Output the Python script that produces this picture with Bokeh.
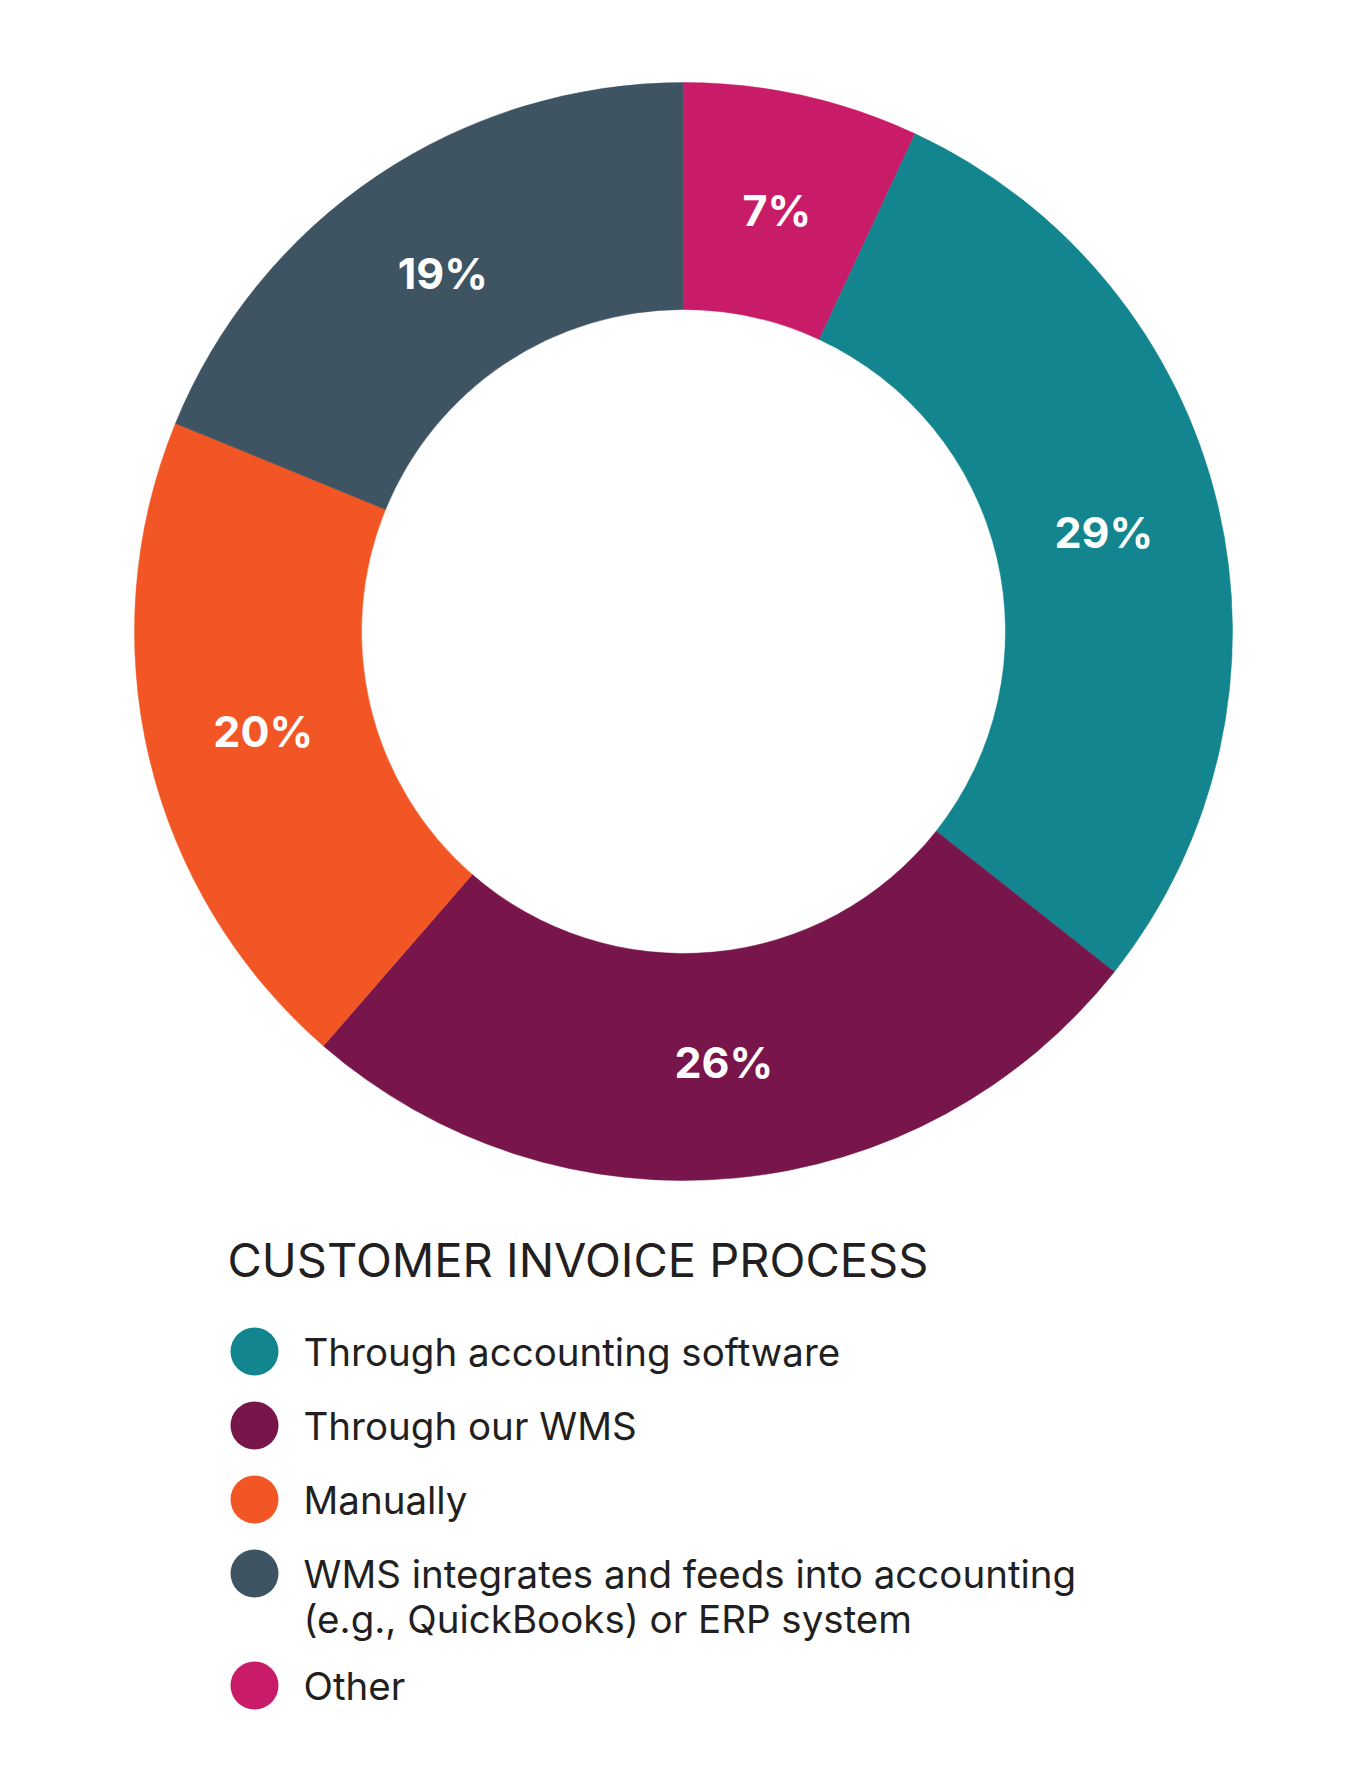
import math
from bokeh.plotting import figure
from bokeh.models import Range1d, ColumnDataSource
from bokeh.core.properties import value
from bokeh.embed import file_html
from bokeh.resources import INLINE

# ---- data ----
categories = [
    "Other",
    "Through accounting software",
    "Through our WMS",
    "Manually",
    "WMS integrates and feeds into accounting\n(e.g., QuickBooks) or ERP system",
]
values = [7, 29, 26, 20, 19]
colors = ["#C91C68", "#12858F", "#78164B", "#F15624", "#3E5462"]
legend_order = [1, 2, 3, 4, 0]
title = "CUSTOMER INVOICE PROCESS"

# ---- layout (page pixels) ----
W, H = 1369, 1771
OFF = 0


def px_x(x):
    return x - OFF


def px_y(y):
    return H + OFF - y


p = figure(width=W, height=H, output_backend="svg", toolbar_location=None,
           x_range=Range1d(0, W), y_range=Range1d(0, H), min_border=0)
p.axis.visible = False
p.grid.visible = False
p.outline_line_color = None
p.background_fill_color = "white"
p.border_fill_color = "white"

cx, cy = px_x(683), px_y(631)
r_out, r_in, r_lab = 549, 322, 432

total = float(sum(values))
starts, ends, lx, ly, labels = [], [], [], [], []
cum = 0.0
for v in values:
    a0 = math.pi / 2 - 2 * math.pi * cum / total
    cum += v
    a1 = math.pi / 2 - 2 * math.pi * cum / total
    starts.append(a0)
    ends.append(a1)
    am = (a0 + a1) / 2
    lx.append(cx + r_lab * math.cos(am))
    ly.append(cy + r_lab * math.sin(am))
    labels.append(f"{v}%")

src = ColumnDataSource(dict(start=starts, end=ends, color=colors,
                            lx=lx, ly=ly, label=labels))
p.annular_wedge(x=cx, y=cy, inner_radius=r_in, outer_radius=r_out,
                start_angle="start", end_angle="end", direction="clock",
                fill_color="color", line_color="color", line_width=0.5,
                source=src)
p.text(x="lx", y="ly", text="label", source=src, text_color="white",
       text_font=value("Inter"), text_font_style="bold",
       text_font_size="43px", text_align="center", text_baseline="middle")

# title
p.text(x=[px_x(227)], y=[px_y(1259)], text=[title], text_color="#231F20",
       text_font=value("Inter"), text_font_size="47px",
       text_align="left", text_baseline="middle")

# legend
row_y = 1351
step, line_h = 74, 45
mx, my, mc = [], [], []
tx, ty, tt = [], [], []
for i in legend_order:
    lines = categories[i].split("\n")
    mx.append(px_x(254))
    my.append(px_y(row_y))
    mc.append(colors[i])
    for j, ln in enumerate(lines):
        tx.append(px_x(303))
        ty.append(px_y(row_y + j * line_h))
        tt.append(ln)
    row_y += step + (len(lines) - 1) * 38

p.scatter(x=mx, y=my, size=48, marker="circle", fill_color=mc, line_color=None)
p.text(x=tx, y=ty, text=tt, text_color="#231F20", text_font=value("Inter"),
       text_font_size="38.5px", text_align="left", text_baseline="middle")

open("out.html", "w").write(file_html(p, INLINE))
